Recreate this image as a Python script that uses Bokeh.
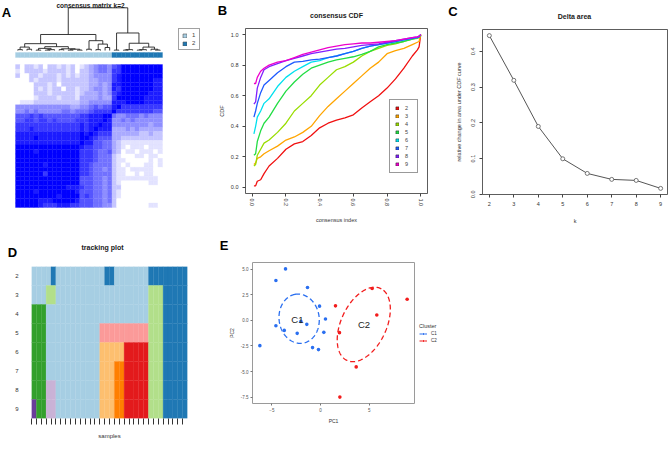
import numpy as np
from bokeh.plotting import figure
from bokeh.models import (Range1d, FactorRange, FixedTicker, Legend, LegendItem,
                          NumeralTickFormatter)
from bokeh.embed import file_html
from bokeh.resources import INLINE
from bokeh.core.properties import value

FONT = "Liberation Sans"
TXT = "#1a1a1a"

# ---------------- DATA ----------------
# A: consensus matrix k=2 (rows top->bottom, digit 0..9 = consensus 0..1)
consensus_rows = [
    "202212022121201" + "234554" + "67999999999",
    "102222122221202" + "234554" + "77999999999",
    "200221222121212" + "234444" + "78999999999",
    "000212222122222" + "233444" + "78999999988",
    "000022212022222" + "233434" + "88999999988",
    "000021212202212" + "234434" + "87999999988",
    "000022212222212" + "333434" + "78999999888",
    "000012222122213" + "333433" + "79999998888",
    "011122222222223" + "344444" + "88899998888",
    "444444444444334" + "456566" + "89777777777",
    "445454444455455" + "567777" + "97777777766",
    "666767666666667" + "788899" + "54455545444",
    "667767767666677" + "788898" + "44545444444",
    "777777777777778" + "788988" + "44444444344",
    "777877777777778" + "789888" + "33343433333",
    "888888888888889" + "898777" + "33333322322",
    "888898888888889" + "987666" + "33222222222",
    "888888888888889" + "886655" + "32111111111",
    "999999999999998" + "776655" + "32101110111",
    "999989999999997" + "776556" + "32011011101",
    "999999999999997" + "776555" + "21000110110",
    "999999999999997" + "776555" + "21100000101",
    "999999899999997" + "765555" + "21010001101",
    "999999999999997" + "765545" + "21101111100",
    "999999799999997" + "765555" + "21100101100",
    "999999999999996" + "665545" + "21111111110",
    "999999999999996" + "665545" + "21000000110",
    "999999999998887" + "665545" + "22000000000",
    "999989999999986" + "665545" + "21000000000",
    "999999999899996" + "765545" + "21000000000",
    "999998889999986" + "665545" + "20000000000",
    "999998777888776" + "665544" + "20000000110",
]
heat_cluster = "111111111111111111111" + "22222222222"
k2_labels = ["1", "2"]
k2_colors = {"1": "#A6CEE3", "2": "#1F78B4"}
# dendrogram: [height, left, right], leaves are column indices
dendro_tree = [1.0,
    [0.375,
        [0.16,
            [0.08, [0.02, 0, 1], [0.03, 2, 3]],
            [0.09,
                [0.05, [0.01, 4, 5], [0.02, [0.01, 6, 7], 8]],
                [0.04, [0.02, 9, 10], [0.03, [0.01, 11, 12], [0.01, 13, 14]]]]],
        [0.23,
            [0.03, 15, 16],
            [0.15, [0.02, 17, 18], [0.07, 19, 20]]]],
    [0.41,
        [0.01, 21, 22],
        [0.17,
            [0.02, [0.01, 23, 24], 25],
            [0.08, [0.02, [0.01, 26, 27], 28], [0.03, 29, [0.01, 30, 31]]]]]]

# B: consensus CDF
cdf_x = [0.01, 0.02, 0.03, 0.05, 0.07, 0.10, 0.15, 0.20, 0.25, 0.30, 0.35, 0.40, 0.45,
         0.50, 0.55, 0.60, 0.65, 0.70, 0.75, 0.80, 0.85, 0.90, 0.95, 0.98, 0.99, 1.00]
cdf_k2 = [0.01, 0.01, 0.04, 0.05, 0.09, 0.14, 0.19, 0.25, 0.285, 0.30, 0.34, 0.39, 0.42,
          0.44, 0.455, 0.475, 0.52, 0.56, 0.60, 0.65, 0.71, 0.78, 0.86, 0.90, 0.92, 1.00]
cdf_k3 = [0.15, 0.16, 0.19, 0.20, 0.22, 0.24, 0.27, 0.31, 0.33, 0.36, 0.40, 0.47, 0.53,
          0.58, 0.63, 0.68, 0.73, 0.78, 0.82, 0.875, 0.895, 0.91, 0.935, 0.95, 0.955, 1.00]
cdf_k4 = [0.14, 0.15, 0.21, 0.25, 0.29, 0.31, 0.36, 0.42, 0.50, 0.55, 0.60, 0.67, 0.72,
          0.77, 0.79, 0.82, 0.86, 0.89, 0.91, 0.93, 0.94, 0.955, 0.97, 0.975, 0.98, 1.00]
cdf_k5 = [0.21, 0.22, 0.30, 0.37, 0.42, 0.46, 0.55, 0.63, 0.69, 0.74, 0.78, 0.80, 0.82,
          0.835, 0.845, 0.855, 0.87, 0.89, 0.92, 0.935, 0.945, 0.955, 0.97, 0.98, 0.985, 1.00]
cdf_k6 = [0.35, 0.40, 0.46, 0.50, 0.55, 0.58, 0.66, 0.72, 0.76, 0.79, 0.82, 0.83, 0.85,
          0.86, 0.875, 0.89, 0.91, 0.925, 0.935, 0.945, 0.955, 0.965, 0.975, 0.98, 0.985, 1.00]
cdf_k7 = [0.46, 0.50, 0.55, 0.62, 0.67, 0.70, 0.75, 0.79, 0.82, 0.825, 0.835, 0.84, 0.85,
          0.86, 0.875, 0.89, 0.91, 0.925, 0.935, 0.945, 0.955, 0.965, 0.975, 0.98, 0.985, 1.00]
cdf_k8 = [0.545, 0.56, 0.65, 0.72, 0.77, 0.79, 0.81, 0.83, 0.845, 0.86, 0.875, 0.885, 0.895,
          0.905, 0.91, 0.92, 0.93, 0.935, 0.94, 0.95, 0.96, 0.97, 0.98, 0.985, 0.99, 1.00]
cdf_k9 = [0.68, 0.68, 0.72, 0.76, 0.78, 0.80, 0.82, 0.83, 0.85, 0.87, 0.885, 0.90, 0.915,
          0.925, 0.935, 0.94, 0.945, 0.945, 0.95, 0.955, 0.96, 0.97, 0.98, 0.985, 0.99, 1.00]
cdf_labels = ["2", "3", "4", "5", "6", "7", "8", "9"]
cdf_colors = ["#F01010", "#FFA500", "#99DD00", "#22DD44", "#00E0EE", "#1E5AFF", "#8020FF", "#EE00CC"]

# C: delta area
delta_k = [2, 3, 4, 5, 6, 7, 8, 9]
delta_area = [0.444, 0.319, 0.190, 0.0995, 0.0586, 0.0419, 0.039, 0.0167]

# D: tracking plot (cluster id per sample, per k)
track_k = ["2", "3", "4", "5", "6", "7", "8", "9"]
track_rows = [
    "11112" + "1111111111" + "22" + "1111111" + "22222222",
    "111" + "33" + "1111111111111111111" + "333" + "22222",
    "444" + "111111111111111111111" + "333" + "22222",
    "444" + "11111111111" + "5555555555" + "333" + "22222",
    "444" + "11111111111" + "77777" + "66666" + "333" + "22222",
    "444" + "11111111111" + "777" + "88" + "66666" + "333" + "22222",
    "444" + "99" + "111111111" + "777" + "88" + "66666" + "333" + "22222",
    "A" + "44" + "99" + "111111111" + "777" + "88" + "66666" + "333" + "22222",
]
track_colors = {"1": "#A6CEE3", "2": "#1F78B4", "3": "#B2DF8A", "4": "#33A02C", "5": "#FB9A99",
                "6": "#E31A1C", "7": "#FDBF6F", "8": "#FF7F00", "9": "#CAB2D6", "A": "#6A3D9A"}

# E: PCA
c1_x = [-3.60, -4.59, -1.34, -0.10, 0.51, -4.59, -3.73, -2.40, -1.41, -2.02, 0.34, -0.82, -0.21, -6.24]
c1_y = [5.03, 3.89, 3.21, 1.39, 0.13, -0.52, -0.98, -1.27, -0.39, -0.10, -1.17, -2.66, -2.86, -2.47]
c2_x = [1.54, 5.31, 8.91, 5.79, 1.95, 3.67, 1.99]
c2_y = [1.42, 3.11, 2.07, 0.52, -1.20, -4.55, -7.50]
# ellipse: centre x, centre y, semi-major, semi-minor, angle (deg)
ell_c1 = [-2.2, 0.16, 2.42, 2.06, 100.0]
ell_c2 = [4.45, -0.40, 3.92, 2.31, 62.6]
lab_x = [-2.38, 4.47]
lab_y = [0.06, -0.43]
lab_t = ["C1", "C2"]
pca_colors = ["#2A6FF0", "#F21C1C"]

# panel titles / letters
titles = ["consensus matrix k=2", "consensus CDF", "Delta area", "tracking plot"]
letters = ["A", "B", "C", "D", "E"]

# ---------------- layout (pixels) ----------------
PAGE_W, PAGE_H = 669, 453
TITLE_POS = [(90, 4.5, 6.5), (336, 15, 7), (574, 15.5, 7), (102, 247, 7)]
LETTER_POS = [(6, 11.5), (222, 10), (452.5, 11), (12, 251.5), (223.5, 244.5)]
E_LEGEND_POS = (419, PAGE_H - 343)


def place(ox, oy):
    return {"position": "absolute", "left": f"{ox}px", "top": f"{oy}px"}


def style_axis(ax, size="5.5px"):
    ax.major_label_text_font = FONT
    ax.major_label_text_font_size = size
    ax.major_label_text_color = "#333333"
    ax.axis_label_text_font = FONT
    ax.axis_label_text_font_size = size
    ax.axis_label_text_font_style = "normal"
    ax.axis_label_text_color = "#333333"
    ax.minor_tick_line_color = None
    ax.major_tick_in = 0
    ax.major_tick_out = 3
    ax.major_tick_line_color = "#444444"
    ax.axis_line_color = None


# ---------------- A: consensus matrix ----------------
A_W, A_H = 215, 228
HL, HR, HT, HB = 15.0, 162.0, 64.0, 207.0   # heatmap box in pixels
n = len(heat_cluster)
pxc = (HR - HL) / n
pyr = (HB - HT) / n
pA = figure(width=A_W, height=A_H, output_backend="svg", toolbar_location=None, title=None,
            x_axis_location=None, y_axis_location=None, min_border=0,
            x_range=Range1d(-HL / pxc, (A_W - HL) / pxc),
            y_range=Range1d(n + (A_H - HB) / pyr, -HT / pyr),
            styles=place(0, 0))
pA.grid.visible = False
pA.outline_line_color = None
hx, hy, hc = [], [], []
for r, srow in enumerate(consensus_rows):
    for c, ch in enumerate(srow):
        v = int(ch) / 9.0
        g = int(round(255 * (1 - v)))
        hx.append(c + 0.5)
        hy.append(r + 0.5)
        hc.append("#%02x%02xff" % (g, g))
pA.rect(hx, hy, width=1, height=1, fill_color=hc, line_color=hc, line_width=0.3)

# colour bar (one renderer per cluster)
BT, BB = 52.0, 57.0
bar_y0 = (BT - HT) / pyr
bar_y1 = (BB - HT) / pyr
for lab in k2_labels:
    idx = [i for i, c in enumerate(heat_cluster) if c == lab]
    pA.quad(left=idx, right=[i + 1 for i in idx], top=[bar_y0] * len(idx),
            bottom=[bar_y1] * len(idx), fill_color=k2_colors[lab],
            line_color=k2_colors[lab], line_width=0.3)
legA_r = [pA.rect(x=[0.5], y=[bar_y0], width=1, height=1, fill_color=k2_colors[lab],
                  line_color="#555555", line_width=0.6, visible=False) for lab in k2_labels]

# dendrogram
DEND_BASE, DEND_TOP = 50.0, 7.3
dpx = DEND_BASE - DEND_TOP
pA.extra_y_ranges = {"dend": Range1d(-(A_H - DEND_BASE) / dpx, DEND_BASE / dpx)}
sx0, sy0, sx1, sy1 = [], [], [], []


def walk(node):
    if isinstance(node, int):
        return node + 0.5, 0.0
    h, l, rr = node
    xl, hl = walk(l)
    xr, hr = walk(rr)
    for a, b, c, d in ((xl, hl, xl, h), (xr, hr, xr, h), (xl, h, xr, h)):
        sx0.append(a); sy0.append(b); sx1.append(c); sy1.append(d)
    return (xl + xr) / 2.0, h


walk(dendro_tree)
pA.segment(sx0, sy0, sx1, sy1, y_range_name="dend", line_color="#222222", line_width=0.9)

legA = Legend(items=[LegendItem(label=k, renderers=[rr]) for k, rr in zip(k2_labels, legA_r)],
              location=(178, A_H - 50), orientation="vertical", border_line_color="#444444",
              border_line_width=0.8, padding=3, spacing=2, margin=0,
              glyph_width=5, glyph_height=5, label_height=5, label_width=4, label_standoff=5,
              label_text_font=FONT, label_text_font_size="6px", background_fill_alpha=1)
pA.add_layout(legA)

# ---------------- B: consensus CDF ----------------
B_OX, B_W = 215, 235
B_L, B_R, B_T, B_B = 28, 23, 28, 35
pB = figure(width=B_W, height=A_H, output_backend="svg", toolbar_location=None, title=None,
            x_range=Range1d(-0.04, 1.04), y_range=Range1d(-0.04, 1.04),
            min_border_left=B_L, min_border_right=B_R, min_border_top=B_T, min_border_bottom=B_B,
            styles=place(B_OX, 0))
pB.grid.visible = False
pB.outline_line_color = "#333333"
pB.outline_line_width = 0.8
cdf_series = [cdf_k2, cdf_k3, cdf_k4, cdf_k5, cdf_k6, cdf_k7, cdf_k8, cdf_k9]
legB_r = []
for ys, col in zip(cdf_series, cdf_colors):
    pB.line(cdf_x, ys, line_color=col, line_width=1.3)
    legB_r.append(pB.rect(x=cdf_x[-1:], y=ys[-1:], width=0.01, height=0.01, fill_color=col,
                          line_color="#222222", line_width=0.5, visible=False))
ticks01 = [0.0, 0.2, 0.4, 0.6, 0.8, 1.0]
for ax in (pB.xaxis[0], pB.yaxis[0]):
    style_axis(ax)
    ax.ticker = FixedTicker(ticks=ticks01)
    ax.formatter = NumeralTickFormatter(format="0.0")
pB.xaxis.major_label_orientation = "vertical"
pB.xaxis.major_label_standoff = 2
pB.xaxis.axis_label = "consensus index"
pB.xaxis.axis_label_standoff = 8
pB.yaxis.major_label_standoff = 4
pB.yaxis.axis_label = "CDF"
pB.yaxis.axis_label_standoff = 3
B_FH = A_H - B_T - B_B
legB = Legend(items=[LegendItem(label=l, renderers=[rr]) for l, rr in zip(cdf_labels, legB_r)],
              location=(387 - B_OX - B_L, (B_T + B_FH) - 173), border_line_color="#333333",
              border_line_width=0.8, padding=5, spacing=2, margin=0,
              glyph_width=4, glyph_height=4, label_height=5, label_width=7, label_standoff=6,
              label_text_font=FONT, label_text_font_size="5.5px")
pB.add_layout(legB)

# ---------------- C: delta area ----------------
C_OX, C_W = 450, 219
C_L, C_R, C_T, C_B = 32, 2, 29, 34
dmin, dmax = min(delta_area), max(delta_area)
dpad = 0.04 * (dmax - dmin)
kpad = 0.04 * (max(delta_k) - min(delta_k))
pC = figure(width=C_W, height=A_H, output_backend="svg", toolbar_location=None, title=None,
            x_range=Range1d(min(delta_k) - kpad, max(delta_k) + kpad),
            y_range=Range1d(dmin - dpad, dmax + dpad),
            min_border_left=C_L, min_border_right=C_R, min_border_top=C_T, min_border_bottom=C_B,
            styles=place(C_OX, 0))
pC.grid.visible = False
pC.outline_line_color = "#333333"
pC.outline_line_width = 0.8
pC.line(delta_k, delta_area, line_color="#555555", line_width=1.0)
pC.scatter(delta_k, delta_area, size=4, marker="circle", fill_color="white",
           line_color="#555555", line_width=0.8)
for ax in (pC.xaxis[0], pC.yaxis[0]):
    style_axis(ax)
pC.xaxis.ticker = FixedTicker(ticks=delta_k)
pC.yaxis.ticker = FixedTicker(ticks=[0.0, 0.1, 0.2, 0.3, 0.4])
pC.yaxis.formatter = NumeralTickFormatter(format="0.0")
pC.yaxis.major_label_orientation = "vertical"
pC.xaxis.major_label_standoff = 4
pC.yaxis.major_label_standoff = 4
pC.xaxis.axis_label = "k"
pC.xaxis.axis_label_standoff = 9
pC.yaxis.axis_label = "relative change in area under CDF curve"
pC.yaxis.axis_label_standoff = 7

# ---------------- D: tracking plot ----------------
D_OY, D_W, D_H = 228, 215, 225
D_L, D_R, D_T, D_B = 31, 28, 38, 35
nt = len(track_rows[0])
pD = figure(width=D_W, height=D_H, output_backend="svg", toolbar_location=None, title=None,
            x_range=Range1d(0, nt), y_range=FactorRange(factors=track_k[::-1]),
            min_border_left=D_L, min_border_right=D_R, min_border_top=D_T, min_border_bottom=D_B,
            styles=place(0, D_OY))
pD.grid.visible = False
pD.outline_line_color = None
tx, ty, tc = [], [], []
for k, srow in zip(track_k, track_rows):
    for c, ch in enumerate(srow):
        tx.append(c + 0.5)
        ty.append(k)
        tc.append(track_colors[ch])
pD.rect(tx, ty, width=1, height=1, fill_color=tc, line_color=tc, line_width=0.3)
style_axis(pD.xaxis[0], "6px")
style_axis(pD.yaxis[0], "6px")
pD.xaxis.ticker = FixedTicker(ticks=list(range(nt)))
pD.xaxis.major_label_overrides = {i: "" for i in range(nt)}
pD.xaxis.major_tick_out = 6
pD.xaxis.major_tick_line_color = "#333333"
pD.xaxis.major_label_text_font_size = "0px"
pD.xaxis.axis_label = "samples"
pD.xaxis.axis_label_standoff = 8
pD.yaxis.major_tick_out = 0
pD.yaxis.major_tick_line_color = None
pD.yaxis.major_label_standoff = 13

# ---------------- E: PCA ----------------
E_OX, E_W = 215, 235
E_L, E_R, E_T, E_B = 37, 36, 34, 50
allx = c1_x + c2_x
ally = c1_y + c2_y
ex_pad = 0.05 * (max(allx) - min(allx))
ey_pad = 0.05 * (max(ally) - min(ally))
pE = figure(width=E_W, height=D_H, output_backend="svg", toolbar_location=None, title=None,
            x_range=Range1d(min(allx) - ex_pad, max(allx) + ex_pad),
            y_range=Range1d(min(ally) - ey_pad, max(ally) + ey_pad),
            min_border_left=E_L, min_border_right=E_R, min_border_top=E_T, min_border_bottom=E_B,
            styles=place(E_OX, D_OY))
pE.grid.visible = False
pE.outline_line_color = "#9a9a9a"
pE.outline_line_width = 1.0
tt = np.linspace(0, 2 * np.pi, 240)


def ellipse_path(par):
    cx, cy, a, b, ang = par
    th = np.deg2rad(ang)
    return (cx + a * np.cos(tt) * np.cos(th) - b * np.sin(tt) * np.sin(th),
            cy + a * np.cos(tt) * np.sin(th) + b * np.sin(tt) * np.cos(th))


e1x, e1y = ellipse_path(ell_c1)
e2x, e2y = ellipse_path(ell_c2)
pE.line(e1x, e1y, line_color=pca_colors[0], line_width=1.3, line_dash="5 3")
pE.line(e2x, e2y, line_color=pca_colors[1], line_width=1.3, line_dash="5 3")
pE.scatter(c1_x, c1_y, size=3.6, marker="circle", fill_color=pca_colors[0], line_color=None)
pE.scatter(c2_x, c2_y, size=3.6, marker="circle", fill_color=pca_colors[1], line_color=None)
pE.text(lab_x, lab_y, text=lab_t, text_font=value(FONT), text_font_size="9.5px",
        text_align="center", text_baseline="middle", text_color="#222222")
for ax in (pE.xaxis[0], pE.yaxis[0]):
    style_axis(ax, "4.5px")
    ax.major_label_text_color = "#555555"
    ax.major_tick_out = 2
    ax.major_tick_line_color = "#777777"
    ax.major_label_standoff = 2
    ax.axis_label_text_color = "#333333"
    ax.axis_label_text_font_size = "5px"
    ax.axis_label_standoff = 3
pE.xaxis.ticker = FixedTicker(ticks=[-5, 0, 5])
pE.yaxis.ticker = FixedTicker(ticks=[-7.5, -5.0, -2.5, 0.0, 2.5, 5.0])
pE.yaxis.formatter = NumeralTickFormatter(format="0.0")
pE.xaxis.axis_label = "PC1"
pE.yaxis.axis_label = "PC2"

# ---------------- text overlay (titles, panel letters, E legend) ----------------
pT = figure(width=PAGE_W, height=PAGE_H, output_backend="svg", toolbar_location=None, title=None,
            x_axis_location=None, y_axis_location=None, min_border=0,
            x_range=Range1d(0, PAGE_W), y_range=Range1d(PAGE_H, 0), styles=place(0, 0))
pT.grid.visible = False
pT.outline_line_color = None
pT.background_fill_color = None
pT.border_fill_color = None
for t, (x, y, s) in zip(titles, TITLE_POS):
    pT.text([x], [y], text=[t], text_font=value(FONT), text_font_size=f"{s}px",
            text_font_style="bold", text_align="center", text_baseline="middle", text_color=TXT)
pT.text([p[0] for p in LETTER_POS], [p[1] for p in LETTER_POS], text=letters,
        text_font=value(FONT), text_font_size="13px", text_font_style="bold",
        text_align="center", text_baseline="middle", text_color="#000000")
# legend proxies for panel E (hidden, only drawn inside the legend)
legE_items = []
for lab, col, xs, ys in zip(lab_t, pca_colors, (c1_x, c2_x), (c1_y, c2_y)):
    lp = pT.line(xs, ys, line_color=col, line_width=1.2, line_dash="3 2", visible=False)
    sp = pT.scatter(xs, ys, size=3.2, marker="circle", fill_color=col, line_color=None, visible=False)
    legE_items.append(LegendItem(label=lab, renderers=[lp, sp]))
legE = Legend(items=legE_items, location=E_LEGEND_POS, title="Cluster",
              title_text_font=FONT, title_text_font_size="5.5px", title_text_font_style="normal",
              title_text_color="#333333", title_standoff=2, border_line_color=None,
              background_fill_alpha=0, padding=1, spacing=2, margin=0, glyph_width=8,
              glyph_height=5, label_height=5, label_width=6, label_standoff=4,
              label_text_font=FONT, label_text_font_size="4.5px", label_text_color="#333333")
pT.add_layout(legE)

open("out.html", "w").write(file_html([pA, pB, pC, pD, pE, pT], INLINE))
